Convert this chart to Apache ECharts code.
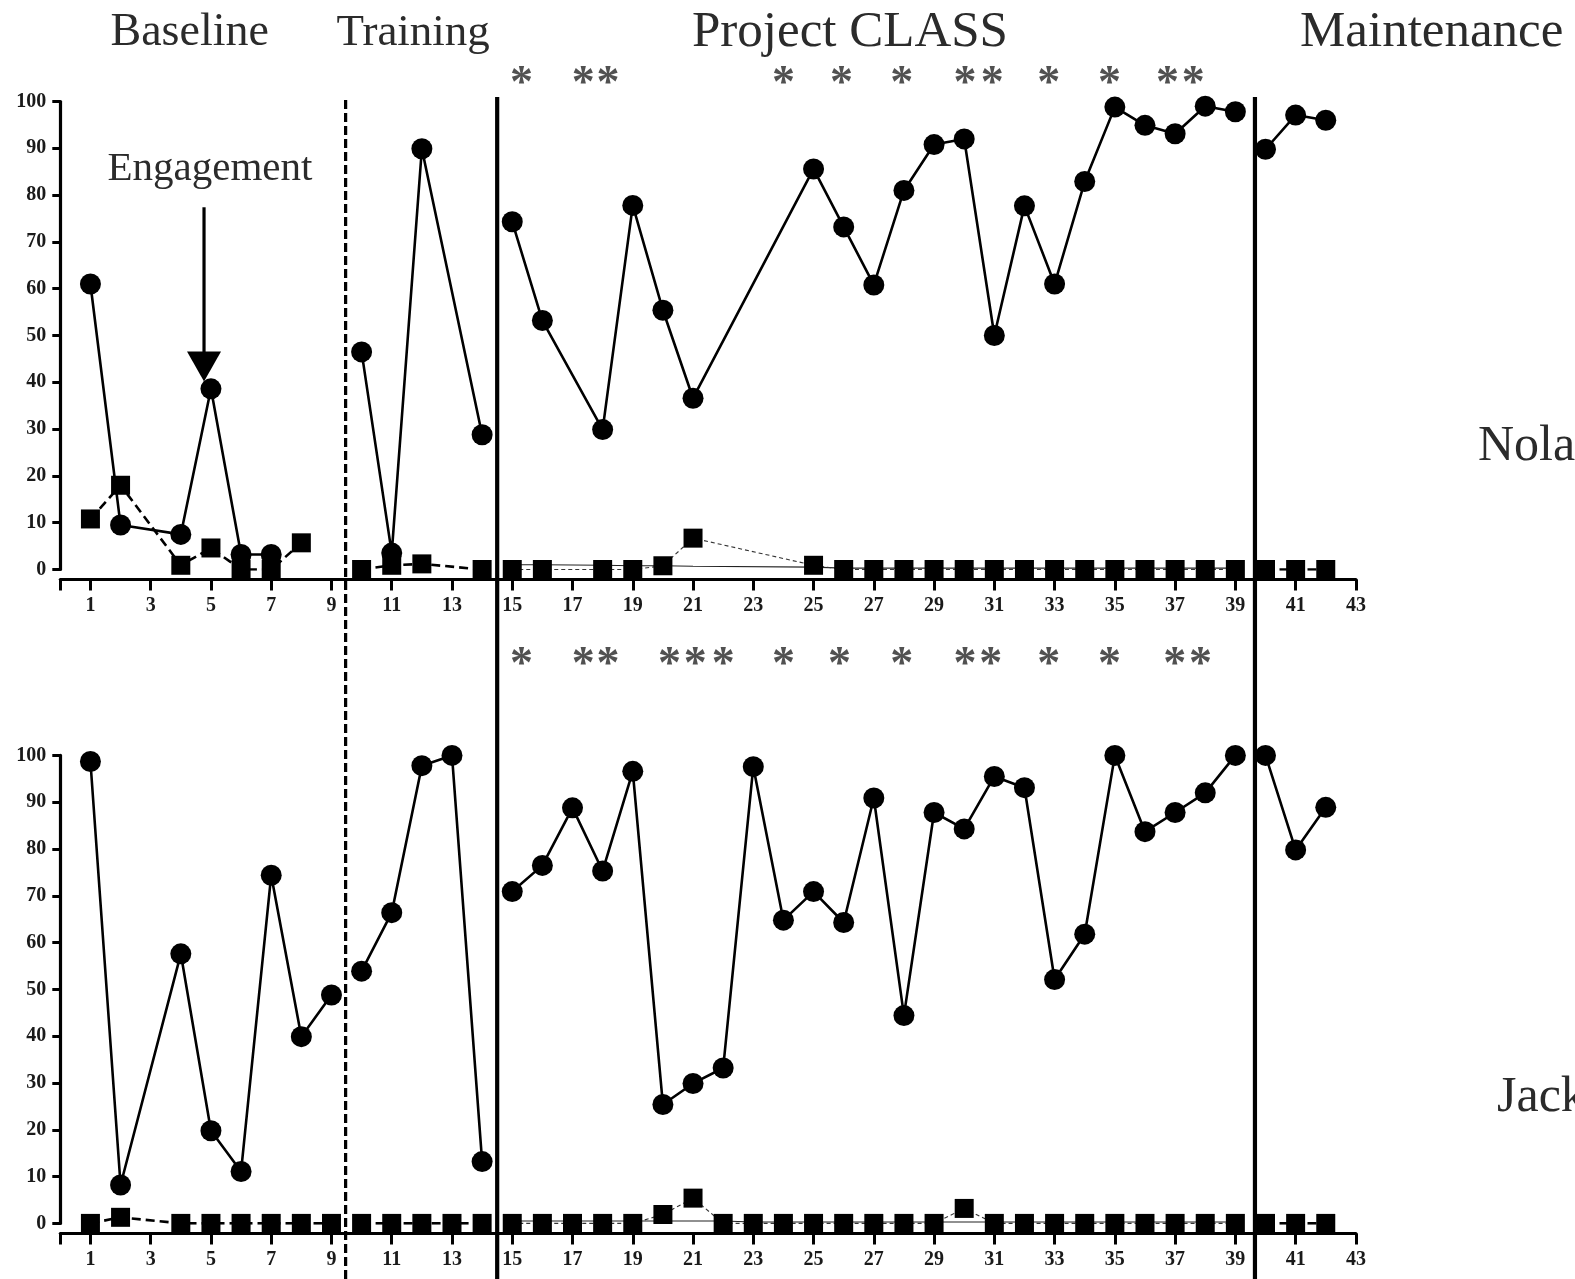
<!DOCTYPE html>
<html>
<head>
<meta charset="utf-8">
<script src="https://cdn.jsdelivr.net/npm/echarts@6/dist/echarts.min.js"></script>
<style>
  html, body { margin: 0; padding: 0; background: #ffffff; }
  #chart { width: 1575px; height: 1279px; }
</style>
</head>
<body>
<div id="chart"></div>
<script>
// ---- Nolan (upper panel) ----
const nolanEngagementSessions = [1, 2, 4, 5, 6, 7, 10, 11, 12, 14, 15, 16, 18, 19, 20, 21, 25, 26, 27, 28, 29, 30, 31, 32, 33, 34, 35, 36, 37, 38, 39, 40, 41, 42];
const nolanEngagement = [61, 9.5, 7.5, 38.6, 3.2, 3.2, 46.5, 3.5, 89.9, 28.8, 74.3, 53.2, 29.9, 77.8, 55.4, 36.6, 85.6, 73.2, 60.8, 81, 90.8, 92, 50, 77.7, 61, 82.9, 98.8, 94.9, 93.1, 99, 97.8, 89.8, 97.1, 96];
const nolanProblemSessions = [1, 2, 4, 5, 6, 7, 8, 10, 11, 12, 14, 15, 16, 18, 19, 20, 21, 25, 26, 27, 28, 29, 30, 31, 32, 33, 34, 35, 36, 37, 38, 39, 40, 41, 42];
const nolanProblem = [10.8, 18, 0.9, 4.6, 0, 0, 5.7, 0, 0.9, 1.2, 0, 0, 0, 0, 0, 0.8, 6.7, 0.9, 0, 0, 0, 0, 0, 0, 0, 0, 0, 0, 0, 0, 0, 0, 0, 0, 0];
const nolanSecondarySessions = [15, 16, 18, 19, 20, 21, 25, 26, 27, 28, 29, 30, 31, 32, 33, 34, 35, 36, 37, 38, 39];
const nolanSecondary = [1, 1, 0.9, 0.8, 0.8, 0.7, 0.5, 0.3, 0.3, 0.3, 0.3, 0.3, 0.3, 0.3, 0.3, 0.3, 0.3, 0.3, 0.3, 0.3, 0.3];
const nolanStarSessions = [15.31, 17.36, 18.18, 24.0, 25.93, 27.93, 30.03, 30.93, 32.81, 34.82, 36.75, 37.6];

// ---- Jack (lower panel) ----
const jackEngagementSessions = [1, 2, 4, 5, 6, 7, 8, 9, 10, 11, 12, 13, 14, 15, 16, 17, 18, 19, 20, 21, 22, 23, 24, 25, 26, 27, 28, 29, 30, 31, 32, 33, 34, 35, 36, 37, 38, 39, 40, 41, 42];
const jackEngagement = [98.7, 8.2, 57.6, 19.8, 11.1, 74.4, 39.9, 48.8, 53.9, 66.4, 97.8, 100, 13.2, 70.9, 76.5, 88.8, 75.3, 96.6, 25.4, 29.9, 33.2, 97.6, 64.8, 70.9, 64.3, 90.9, 44.4, 87.8, 84.3, 95.5, 93.1, 52.1, 61.8, 100, 83.7, 87.8, 92, 100, 100, 79.8, 88.9];
const jackProblemSessions = [1, 2, 4, 5, 6, 7, 8, 9, 10, 11, 12, 13, 14, 15, 16, 17, 18, 19, 20, 21, 22, 23, 24, 25, 26, 27, 28, 29, 30, 31, 32, 33, 34, 35, 36, 37, 38, 39, 40, 41, 42];
const jackProblem = [0, 1.3, 0, 0, 0, 0, 0, 0, 0, 0, 0, 0, 0, 0, 0, 0, 0, 0, 1.9, 5.4, 0, 0, 0, 0, 0, 0, 0, 0, 3.2, 0, 0, 0, 0, 0, 0, 0, 0, 0, 0, 0, 0];
const jackSecondarySessions = [15, 16, 17, 18, 19, 20, 21, 22, 23, 24, 25, 26, 27, 28, 29, 30, 31, 32, 33, 34, 35, 36, 37, 38, 39];
const jackSecondary = [0.5, 0.5, 0.5, 0.5, 0.5, 0.5, 0.5, 0.5, 0.3, 0.3, 0.3, 0.3, 0.3, 0.3, 0.3, 0.3, 0.3, 0.3, 0.3, 0.3, 0.3, 0.3, 0.3, 0.3, 0.3];
const jackStarSessions = [15.31, 17.36, 18.18, 20.22, 21.07, 22.0, 24.0, 25.86, 27.93, 30.03, 30.88, 32.81, 34.82, 36.99, 37.84];

// ---- axes, phases, labels ----
const xTickValues = [0, 1, 3, 5, 7, 9, 11, 13, 15, 17, 19, 21, 23, 25, 27, 29, 31, 33, 35, 37, 39, 41, 43];
const xTickLabels = [1, 3, 5, 7, 9, 11, 13, 15, 17, 19, 21, 23, 25, 27, 29, 31, 33, 35, 37, 39, 41, 43];
const phaseChanges = [9.47, 14.5, 39.65];
const phaseTitles = ['Baseline', 'Training', 'Project CLASS', 'Maintenance'];
const participants = ['Nolan', 'Jackson'];
const arrowLabel = 'Engagement';
// arrow: session position, shaft top, shaft bottom, head centre
const arrowSession = 4.77;
const arrowShaft = [77.4, 46];
const arrowHead = 43.4;

const SERIF = '"Liberation Serif", "Times New Roman", serif';
const phaseRanges = [
  [0, phaseChanges[0]],
  [phaseChanges[0], phaseChanges[1]],
  [phaseChanges[1], phaseChanges[2]],
  [phaseChanges[2], 43]
];

function pairs(xs, ys) { return xs.map((x, i) => [x, ys[i]]); }
function inRange(pts, r) { return pts.filter(p => p[0] > r[0] && p[0] < r[1]); }

// one line series per phase so lines break at each condition change
function phaseSeries(pts, grid, kind) {
  const out = [];
  phaseRanges.forEach((r, pi) => {
    const seg = inRange(pts, r);
    if (!seg.length) return;
    const inClass = pi === 2;
    if (kind === 'circle') {
      out.push({
        type: 'line', xAxisIndex: grid, yAxisIndex: grid, data: seg,
        symbol: 'circle', symbolSize: 21, z: 5,
        itemStyle: { color: '#000' },
        lineStyle: { color: '#000', width: 2.6, type: 'solid' }
      });
    } else if (kind === 'rect') {
      out.push({
        type: 'line', xAxisIndex: grid, yAxisIndex: grid, data: seg,
        symbol: 'rect', symbolSize: 19, z: 4,
        itemStyle: { color: '#000' },
        lineStyle: inClass
          ? { color: '#333', width: 1.1, type: [4, 3] }
          : { color: '#000', width: 2.6, type: [9, 5] }
      });
    } else {
      out.push({
        type: 'line', xAxisIndex: grid, yAxisIndex: grid, data: seg,
        symbol: 'none', z: 3,
        lineStyle: { color: '#222', width: 1.1, type: 'solid' }
      });
    }
  });
  return out;
}

// rows of asterisks above each panel, in their own strip grids
function starSeries(xs, grid) {
  return {
    type: 'scatter', xAxisIndex: grid, yAxisIndex: grid, silent: true,
    data: xs.map(x => [x, 0.5]),
    symbol: 'circle', symbolSize: 1, itemStyle: { color: 'rgba(0,0,0,0)' },
    label: {
      show: true, position: 'inside', formatter: '*',
      fontFamily: SERIF, fontSize: 46, fontWeight: 'bold', color: '#262626'
    }
  };
}

const gridLeft = 60.3;
const gridWidth = 43 * 30.13;
const gridRight = 1575 - gridLeft - gridWidth;

function xAxisFor(grid) {
  return {
    gridIndex: grid, type: 'value', min: 0, max: 43, offset: 10,
    axisLine: { show: true, onZero: false, lineStyle: { color: '#000', width: 3.2 } },
    axisTick: { show: true, length: 11, customValues: xTickValues, lineStyle: { color: '#000', width: 3 } },
    axisLabel: { show: true, customValues: xTickLabels, margin: 16, fontFamily: SERIF, fontSize: 20, fontWeight: 'bold', color: '#1a1a1a' },
    splitLine: { show: false }
  };
}
function yAxisFor(grid) {
  return {
    gridIndex: grid, type: 'value', min: 0, max: 100, interval: 10,
    axisLine: { show: true, lineStyle: { color: '#000', width: 3.2 } },
    axisTick: { show: true, length: 8, lineStyle: { color: '#000', width: 3 } },
    axisLabel: { show: true, margin: 14, fontFamily: SERIF, fontSize: 20, fontWeight: 'bold', color: '#1a1a1a' },
    splitLine: { show: false }
  };
}
function hiddenX(grid) { return { gridIndex: grid, type: 'value', min: 0, max: 43, show: false }; }
function hiddenY(grid) { return { gridIndex: grid, type: 'value', min: 0, max: 1, show: false }; }

const series = [];
series.push(...phaseSeries(pairs(nolanSecondarySessions, nolanSecondary), 0, 'thin'));
series.push(...phaseSeries(pairs(nolanProblemSessions, nolanProblem), 0, 'rect'));
series.push(...phaseSeries(pairs(nolanEngagementSessions, nolanEngagement), 0, 'circle'));
series.push(...phaseSeries(pairs(jackSecondarySessions, jackSecondary), 1, 'thin'));
series.push(...phaseSeries(pairs(jackProblemSessions, jackProblem), 1, 'rect'));
series.push(...phaseSeries(pairs(jackEngagementSessions, jackEngagement), 1, 'circle'));
series.push(starSeries(nolanStarSessions, 3));
series.push(starSeries(jackStarSessions, 4));

// arrow pointing down to the session-5 engagement point
series.push({
  type: 'line', xAxisIndex: 0, yAxisIndex: 0, silent: true, z: 6,
  data: [[arrowSession, arrowShaft[0]], [arrowSession, arrowShaft[1]]],
  symbol: 'none', lineStyle: { color: '#000', width: 3.2 }
});
series.push({
  type: 'scatter', xAxisIndex: 0, yAxisIndex: 0, silent: true, z: 6,
  data: [[arrowSession, arrowHead]],
  symbol: 'triangle', symbolSize: [34, 30], symbolRotate: 180,
  itemStyle: { color: '#000', opacity: 1 }
});

// condition-change lines spanning both panels
phaseChanges.forEach((x, i) => {
  series.push({
    type: 'line', xAxisIndex: 2, yAxisIndex: 2, data: [[x, 0], [x, 1]],
    symbol: 'none', z: 10, silent: true,
    lineStyle: i === 0
      ? { color: '#000', width: 3.2, type: [9, 4] }
      : { color: '#000', width: 4.2, type: 'solid' }
  });
});

const chart = echarts.init(document.getElementById('chart'), null, { renderer: 'canvas' });

chart.setOption({
  animation: false,
  backgroundColor: '#ffffff',
  grid: [
    { left: gridLeft, right: gridRight, top: 101.5, height: 468 },
    { left: gridLeft, right: gridRight, top: 755.4, height: 468 },
    { left: gridLeft, right: gridRight, top: 97, bottom: 0 },
    { left: gridLeft, right: gridRight, top: 65, height: 40 },
    { left: gridLeft, right: gridRight, top: 646, height: 40 }
  ],
  xAxis: [xAxisFor(0), xAxisFor(1), hiddenX(2), hiddenX(3), hiddenX(4)],
  yAxis: [yAxisFor(0), yAxisFor(1), hiddenY(2), hiddenY(3), hiddenY(4)],
  graphic: [
    { type: 'text', x: 110.5, y: 33, style: { text: phaseTitles[0], font: '46px ' + SERIF, fill: '#2b2b2b', align: 'left', verticalAlign: 'middle' } },
    { type: 'text', x: 336.5, y: 33, style: { text: phaseTitles[1], font: '45px ' + SERIF, fill: '#2b2b2b', align: 'left', verticalAlign: 'middle' } },
    { type: 'text', x: 692, y: 33, style: { text: phaseTitles[2], font: '51px ' + SERIF, fill: '#2b2b2b', align: 'left', verticalAlign: 'middle' } },
    { type: 'text', x: 1300, y: 33, style: { text: phaseTitles[3], font: '51px ' + SERIF, fill: '#2b2b2b', align: 'left', verticalAlign: 'middle' } },
    { type: 'text', x: 107.5, y: 169, style: { text: arrowLabel, font: '41px ' + SERIF, fill: '#2b2b2b', align: 'left', verticalAlign: 'middle' } },
    { type: 'text', x: 1478, y: 447, style: { text: participants[0], font: '50px ' + SERIF, fill: '#2b2b2b', align: 'left', verticalAlign: 'middle' } },
    { type: 'text', x: 1497, y: 1098, style: { text: participants[1], font: '50px ' + SERIF, fill: '#2b2b2b', align: 'left', verticalAlign: 'middle' } }
  ],
  series: series
});
</script>
</body>
</html>
